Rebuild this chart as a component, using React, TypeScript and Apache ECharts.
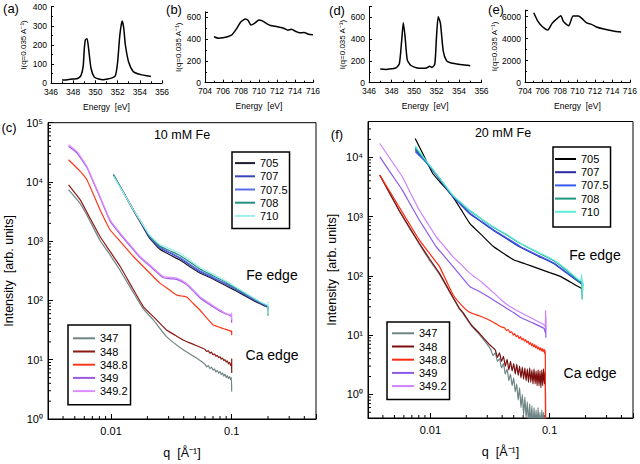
import React, { useEffect, useRef } from 'react';
import * as echarts from 'echarts';

const FONT = 'Liberation Sans, Arial, Helvetica, sans-serif';

// ---------- top panels: I(q=0.035) vs energy ----------
const energyA = [347, 347.5, 348, 348.4, 348.7, 348.9, 349.0, 349.1, 349.25, 349.4, 349.6, 349.9, 350.3, 350.7, 351.1, 351.5, 351.8, 352.0, 352.2, 352.4, 352.55, 352.7, 353.0, 353.4, 353.8, 354.2, 354.6, 355];
const intensityA = [17, 19, 22, 25, 40, 90, 180, 228, 232, 175, 80, 32, 22, 18, 22, 28, 40, 110, 250, 325, 290, 200, 110, 62, 50, 44, 40, 36];

const energyB = [705, 705.5, 706, 706.5, 707, 707.5, 708, 708.5, 708.8, 709.1, 709.5, 710, 710.3, 710.8, 711.3, 711.8, 712.3, 712.8, 713.2, 713.6, 714.1, 714.5, 715, 715.5, 716];
const intensityB = [422, 408, 412, 422, 440, 495, 560, 585, 570, 530, 545, 575, 570, 545, 525, 518, 508, 498, 482, 490, 470, 458, 460, 445, 440];

const energyD = [347, 347.5, 348, 348.4, 348.7, 348.9, 349.05, 349.2, 349.4, 349.7, 350.2, 350.7, 351.1, 351.4, 351.6, 351.85, 352.0, 352.15, 352.35, 352.6, 352.9, 353.3, 353.8, 354.3, 354.8, 355];
const intensityD = [125, 122, 128, 135, 175, 380, 551, 430, 210, 160, 138, 132, 135, 150, 140, 170, 420, 606, 545, 290, 200, 180, 172, 165, 160, 155];

const energyE = [705, 705.5, 706, 706.6, 707.1, 707.7, 708.1, 708.4, 708.7, 709.0, 709.5, 710.1, 710.5, 711.0, 711.6, 712.1, 713.0, 714.1, 715];
const intensityE = [6364, 5545, 5090, 4788, 5393, 5848, 6090, 5545, 5333, 5181, 6060, 6060, 5848, 5454, 5303, 5090, 4878, 4697, 4606];

// ---------- panel (c): 10 mM Fe, [q, I] ----------
const c705 = [[0.01045, 13000], [0.0125, 6900], [0.0153, 3300], [0.018, 1880], [0.021, 1100], [0.0254, 730], [0.031, 585], [0.0372, 480], [0.045, 372], [0.0545, 290], [0.07, 230], [0.0904, 176], [0.11, 143], [0.141, 108], [0.17, 89], [0.1995, 76], [0.2, 68]];
const c707 = [[0.01045, 13200], [0.0125, 6950], [0.0153, 3390], [0.018, 1960], [0.021, 1150], [0.0254, 775], [0.031, 625], [0.0372, 513], [0.045, 397], [0.0545, 306], [0.07, 240], [0.0904, 186], [0.11, 150], [0.141, 112], [0.17, 92], [0.1995, 77], [0.2, 70]];
const c7075 = [[0.01045, 13300], [0.0125, 7000], [0.0153, 3420], [0.018, 1990], [0.021, 1180], [0.0254, 800], [0.031, 645], [0.0372, 530], [0.045, 410], [0.0545, 316], [0.07, 247], [0.0904, 191], [0.11, 153], [0.141, 115], [0.17, 93], [0.1995, 78], [0.2, 72]];
const c708 = [[0.01045, 13400], [0.0125, 7000], [0.0153, 3400], [0.018, 2000], [0.021, 1210], [0.0254, 830], [0.031, 685], [0.0372, 575], [0.045, 445], [0.0545, 340], [0.07, 262], [0.0904, 200], [0.11, 158], [0.141, 118], [0.17, 95], [0.1995, 80], [0.2, 55], [0.2, 75]];
const c710 = [[0.01045, 12600], [0.0125, 6800], [0.0153, 3400], [0.018, 2020], [0.021, 1250], [0.0254, 880], [0.031, 740], [0.0372, 625], [0.045, 480], [0.0545, 365], [0.07, 278], [0.0904, 210], [0.11, 165], [0.141, 122], [0.17, 97], [0.1995, 84], [0.2, 95], [0.2, 60]];

const c347 = [[0.00444, 7400], [0.00555, 4300], [0.0065, 2450], [0.0081, 1030], [0.0098, 590], [0.0119, 320], [0.015, 145], [0.0185, 72], [0.0224, 47], [0.0288, 24.5], [0.0396, 14.7], [0.05, 11], [0.06, 8.4], [0.062, 7.6], [0.064, 8.0], [0.066, 7.1], [0.068, 7.5], [0.07, 6.7], [0.072, 7.0], [0.074, 6.2], [0.076, 6.6], [0.078, 5.9], [0.08, 6.3], [0.082, 5.6], [0.084, 6.0], [0.086, 5.3], [0.088, 5.7], [0.09, 5.0], [0.092, 5.4], [0.094, 4.8], [0.096, 5.2], [0.098, 4.6], [0.0995, 5.0], [0.1, 2.9]];
const c348 = [[0.00444, 8970], [0.00555, 5000], [0.0065, 2750], [0.0081, 1200], [0.0098, 673], [0.0119, 374], [0.015, 164], [0.0185, 79], [0.0224, 53.5], [0.0288, 31.8], [0.034, 26], [0.0396, 21.6], [0.05, 17.6], [0.06, 15], [0.062, 13.8], [0.064, 14.3], [0.066, 12.9], [0.068, 13.4], [0.07, 12.1], [0.072, 12.6], [0.074, 11.4], [0.076, 11.9], [0.078, 10.8], [0.08, 11.3], [0.082, 10.2], [0.084, 10.7], [0.086, 9.7], [0.088, 10.1], [0.09, 9.1], [0.092, 9.6], [0.094, 8.5], [0.096, 9.0], [0.098, 8.0], [0.0995, 8.6], [0.1, 6.0], [0.1, 10.5], [0.1, 7.5]];
const c3488 = [[0.00444, 23700], [0.00555, 15100], [0.0063, 10900], [0.0072, 5900], [0.0081, 3390], [0.0098, 1560], [0.0122, 940], [0.0153, 552], [0.0195, 336], [0.0254, 196], [0.03, 155], [0.0349, 124], [0.0385, 119], [0.0423, 114], [0.048, 89], [0.0545, 69], [0.06, 55], [0.07, 39], [0.085, 33.6], [0.099, 30], [0.1, 26], [0.1, 31]];
const c349 = [[0.00444, 40000], [0.0052, 31000], [0.0063, 17500], [0.0072, 9500], [0.0081, 5450], [0.0098, 2200], [0.0119, 1310], [0.0145, 815], [0.0174, 530], [0.021, 380], [0.027, 244], [0.031, 232], [0.035, 227], [0.042, 187], [0.048, 145], [0.0545, 111], [0.065, 86], [0.08, 66], [0.09, 59], [0.099, 54], [0.1, 42]];
const c3492 = [[0.00444, 42500], [0.0052, 32700], [0.0063, 18300], [0.0072, 9900], [0.0081, 5700], [0.0098, 2300], [0.0119, 1370], [0.0145, 850], [0.0174, 552], [0.021, 396], [0.027, 254], [0.031, 245], [0.035, 238], [0.042, 195], [0.048, 151], [0.0545, 116], [0.065, 91], [0.08, 69], [0.09, 60], [0.099, 57], [0.1, 47], [0.1, 62]];

// ---------- panel (f): 20 mM Fe, [q, I] ----------
const f705 = [[0.00746, 20600], [0.0088, 10700], [0.01047, 5320], [0.0125, 3520], [0.01545, 2150], [0.018, 1330], [0.0214, 767], [0.027, 484], [0.0338, 311], [0.041, 240], [0.0498, 186], [0.062, 160], [0.0787, 135], [0.1, 113], [0.124, 97], [0.15, 78], [0.183, 62], [0.19, 58]];
const f707 = [[0.00746, 13500], [0.0088, 9200], [0.01047, 6000], [0.0125, 3780], [0.01545, 2150], [0.018, 1580], [0.0214, 1110], [0.027, 800], [0.0338, 580], [0.045, 405], [0.0568, 303], [0.08, 215], [0.1086, 160], [0.14, 110], [0.183, 74], [0.19, 68]];
const f7075 = [[0.00746, 12500], [0.0088, 9000], [0.01047, 6050], [0.0125, 3800], [0.01545, 2180], [0.018, 1620], [0.0214, 1150], [0.027, 820], [0.0338, 600], [0.045, 420], [0.0568, 312], [0.08, 222], [0.1086, 165], [0.14, 113], [0.183, 76], [0.19, 72]];
const f708 = [[0.00746, 14500], [0.0088, 9500], [0.01047, 6200], [0.0125, 3900], [0.01545, 2250], [0.018, 1700], [0.0214, 1250], [0.027, 900], [0.0338, 660], [0.045, 470], [0.0568, 350], [0.08, 245], [0.1086, 180], [0.14, 122], [0.183, 78], [0.185, 100], [0.187, 40], [0.19, 74]];
const f710 = [[0.00746, 15500], [0.0088, 9800], [0.01047, 6300], [0.0125, 3950], [0.01545, 2280], [0.018, 1720], [0.0214, 1270], [0.027, 910], [0.0338, 670], [0.045, 480], [0.0568, 355], [0.08, 250], [0.1086, 184], [0.14, 126], [0.183, 82], [0.186, 105], [0.188, 45], [0.19, 80]];

const f347 = [[0.00377, 4900], [0.00546, 1250], [0.0068, 600], [0.00807, 345], [0.0098, 185], [0.0119, 106], [0.0145, 53], [0.0176, 27], [0.0188, 23], [0.022, 14.5], [0.026, 10], [0.032, 5.8], [0.0335, 4.5], [0.035, 5.0], [0.0365, 3.6], [0.038, 4.0], [0.0395, 2.8], [0.041, 3.3], [0.0425, 2.2], [0.044, 2.7], [0.0455, 1.7], [0.047, 2.2], [0.0485, 1.4], [0.05, 1.9], [0.0515, 1.1], [0.053, 1.5], [0.0545, 0.8], [0.056, 1.3], [0.0575, 0.6], [0.059, 1.0], [0.0605, 0.45], [0.062, 0.9], [0.0635, 0.4], [0.065, 0.75], [0.0665, 0.3], [0.068, 0.7], [0.0695, 0.3], [0.071, 0.65], [0.0725, 0.25], [0.074, 0.6], [0.0755, 0.3], [0.077, 0.55], [0.0785, 0.25], [0.08, 0.6], [0.0815, 0.3], [0.083, 0.5], [0.0845, 0.25], [0.086, 0.55], [0.0875, 0.3], [0.089, 0.5], [0.0905, 0.25], [0.092, 0.45], [0.0925, 0.2]];
const f348 = [[0.00377, 5000], [0.00546, 1285], [0.0068, 620], [0.00807, 354], [0.0098, 196], [0.0119, 111], [0.0145, 55], [0.0176, 28], [0.0188, 24], [0.022, 15], [0.026, 10.5], [0.0316, 6.8], [0.035, 5.6], [0.0365, 4.2], [0.038, 5.0], [0.0395, 3.6], [0.041, 4.4], [0.0425, 3.0], [0.044, 3.9], [0.0455, 2.6], [0.047, 3.6], [0.0485, 2.5], [0.05, 3.3], [0.0515, 2.2], [0.053, 3.2], [0.0545, 2.1], [0.056, 3.0], [0.0575, 1.9], [0.059, 2.9], [0.0605, 1.8], [0.062, 2.8], [0.0635, 1.7], [0.065, 2.7], [0.0665, 1.6], [0.068, 2.8], [0.0695, 1.6], [0.071, 2.6], [0.0725, 1.5], [0.074, 2.7], [0.0755, 1.5], [0.077, 2.5], [0.0785, 1.4], [0.08, 2.6], [0.0815, 1.4], [0.083, 2.5], [0.0845, 1.3], [0.086, 2.6], [0.0875, 1.4], [0.089, 2.7], [0.0905, 1.5], [0.092, 2.4], [0.0925, 0.2]];
const f3488 = [[0.00377, 4980], [0.00546, 1460], [0.0068, 706], [0.00807, 403], [0.0098, 241], [0.0119, 144], [0.0155, 48], [0.0188, 30], [0.0215, 24], [0.026, 21], [0.032, 17.5], [0.0385, 14], [0.042, 13.2], [0.0435, 12], [0.045, 12.4], [0.0465, 11], [0.048, 11.5], [0.0495, 10], [0.051, 10.6], [0.0525, 9.4], [0.054, 9.9], [0.0555, 8.8], [0.057, 9.4], [0.0585, 8.3], [0.06, 8.8], [0.0615, 7.9], [0.063, 8.4], [0.0645, 7.4], [0.066, 7.9], [0.0675, 7.0], [0.069, 7.5], [0.0705, 6.6], [0.072, 7.2], [0.0735, 6.3], [0.075, 6.9], [0.0765, 6.1], [0.078, 6.6], [0.0795, 5.8], [0.081, 6.3], [0.0825, 5.6], [0.084, 6.1], [0.0855, 5.4], [0.087, 5.9], [0.0885, 5.2], [0.09, 5.8], [0.091, 4.8], [0.0915, 5.5], [0.092, 4.5], [0.0925, 0.2]];
const f349 = [[0.00377, 10100], [0.0048, 4940], [0.00582, 2790], [0.0068, 1600], [0.00807, 873], [0.0095, 519], [0.01117, 311], [0.013, 217], [0.01545, 144], [0.018, 100], [0.0214, 66], [0.0255, 55], [0.0297, 46], [0.0385, 33], [0.0498, 24], [0.0568, 20], [0.07, 16.5], [0.0895, 13], [0.092, 11], [0.0925, 20], [0.093, 9]];
const f3492 = [[0.00377, 17000], [0.0048, 8300], [0.00582, 4670], [0.0068, 2520], [0.00807, 1285], [0.0095, 764], [0.01117, 458], [0.013, 319], [0.01545, 211], [0.018, 157], [0.0214, 111], [0.027, 78], [0.0338, 52], [0.04, 38], [0.0467, 30], [0.055, 25], [0.065, 21], [0.0775, 17.5], [0.0895, 15], [0.092, 14], [0.0925, 26], [0.093, 12]];

const feNames = ['705', '707', '707.5', '708', '710'];
const caNames = ['347', '348', '348.8', '349', '349.2'];
const feColorsC = ['#1e1a30', '#3a46b8', '#5c6ce6', '#23907f', '#9ef0ea'];
const caColorsC = ['#6f8585', '#8a1a12', '#ff3a1c', '#9a5ae6', '#de8cff'];
const feColorsF = ['#000000', '#2a2aa6', '#3a5cf0', '#1c9a80', '#5eecd8'];
const caColorsF = ['#6f8585', '#7a0e0e', '#ff2a10', '#8a5ae8', '#d080ff'];

const SUP = ['⁰', '¹', '²', '³', '⁴', '⁵'];

const minorQ: number[] = [];
[0.001, 0.01, 0.1].forEach((d) => { for (let k = 2; k <= 9; k++) { const v = +(k * d).toPrecision(3); if (v > 0.003 && v < 0.5) minorQ.push(v); } });
const minorIc: number[] = [];
[1, 10, 100, 1000, 10000].forEach((d) => { for (let k = 2; k <= 9; k++) minorIc.push(k * d); });
const minorIf: number[] = [];
[0.1, 1, 10, 100, 1000, 10000].forEach((d) => { for (let k = 2; k <= 9; k++) { const v = +(k * d).toPrecision(3); if (v > 0.4 && v < 40000) minorIf.push(v); } });

const zip = (xs: number[], ys: number[]) => xs.map((x, i) => [x, ys[i]]);

export default function App() {
  const ref = useRef<HTMLDivElement>(null);
  useEffect(() => {
    if (!ref.current) return;
    const chart = echarts.init(ref.current, null, { renderer: 'svg' });
    const black = '#000';
    const axLine = { show: true, onZero: false, lineStyle: { color: black, width: 1 } };

    const topX = (gi: number, min: number, max: number) => ({
      type: 'value', gridIndex: gi, min, max, interval: 2,
      name: 'Energy  [eV]', nameLocation: 'middle', nameGap: 19,
      nameTextStyle: { fontSize: 8.5, color: black, fontFamily: FONT },
      axisLine: axLine,
      axisTick: { inside: true, length: 3, lineStyle: { color: black } },
      minorTick: { show: true, splitNumber: 2, length: 2, lineStyle: { color: black } },
      axisLabel: { fontSize: 8.5, color: black, margin: 4, fontFamily: FONT },
      splitLine: { show: false }, minorSplitLine: { show: false },
    });
    const topY = (gi: number, max: number, interval: number, gap: number) => ({
      type: 'value', gridIndex: gi, min: 0, max, interval,
      name: 'I(q=0.035 A⁻¹)', nameLocation: 'middle', nameGap: gap,
      nameTextStyle: { fontSize: 8, color: black, fontFamily: FONT },
      axisLine: axLine,
      axisTick: { inside: true, length: 3, lineStyle: { color: black } },
      minorTick: { show: true, splitNumber: 2, length: 2, lineStyle: { color: black } },
      axisLabel: { fontSize: 8.5, color: black, margin: 4, fontFamily: FONT, formatter: (v: number) => (v % interval === 0 ? String(v) : '') },
      splitLine: { show: false },
    });
    const logX = (gi: number) => ({
      type: 'log', logBase: 10, gridIndex: gi, min: 0.003, max: 0.5,
      name: 'q  [Å⁻¹]', nameLocation: 'middle', nameGap: 27,
      nameTextStyle: { fontSize: 12.5, color: black, fontFamily: FONT },
      axisLine: axLine,
      axisTick: { inside: true, length: 5, lineStyle: { color: black } },
      axisLabel: {
        fontSize: 11, color: black, margin: 6, fontFamily: FONT,
        formatter: (v: number) => { const l = Math.log10(v); const e = Math.round(l); if (Math.abs(l - e) > 1e-6) return ''; return e === -2 ? '0.01' : e === -1 ? '0.1' : ''; },
      },
      splitLine: { show: false },
    });
    const logY = (gi: number, min: number, max: number, gap: number) => ({
      type: 'log', logBase: 10, gridIndex: gi, min, max,
      name: 'Intensity  [arb. units]', nameLocation: 'middle', nameGap: gap,
      nameTextStyle: { fontSize: 12.5, color: black, fontFamily: FONT },
      axisLine: axLine,
      axisTick: { inside: true, length: 5, lineStyle: { color: black } },
      axisLabel: {
        fontSize: 11, color: black, margin: 5, fontFamily: FONT,
        formatter: (v: number) => { const l = Math.log10(v); const e = Math.round(l); if (Math.abs(l - e) > 1e-6 || e < 0) return ''; return '10' + SUP[e]; },
      },
      splitLine: { show: false },
    });

    const topLine = (gi: number, data: number[][]) => ({
      type: 'line', xAxisIndex: gi, yAxisIndex: gi, data, symbol: 'none', showSymbol: false,
      lineStyle: { color: black, width: 1.5 }, itemStyle: { color: black }, smooth: 0.2, silent: true,
    });
    const mainLine = (gi: number, name: string, data: number[][], color: string) => ({
      type: 'line', name, xAxisIndex: gi, yAxisIndex: gi, data, symbol: 'none', showSymbol: false,
      lineStyle: { color, width: 1.2 }, itemStyle: { color }, smooth: 0.15, silent: true, clip: true,
    });
    const tickSeries = (gi: number, xs: number[], ys: number[], xMin: number, yMin: number) => ({
      type: 'custom', xAxisIndex: gi, yAxisIndex: gi, silent: true, clip: false,
      data: [...xs.map((v) => [v, yMin, 0]), ...ys.map((v) => [xMin, v, 1])],
      encode: { x: 0, y: 1 },
      renderItem: (_p: any, api: any) => {
        const p = api.coord([api.value(0), api.value(1)]);
        const f = api.value(2);
        const shape = f === 0 ? { x1: p[0], y1: p[1], x2: p[0], y2: p[1] - 3 } : { x1: p[0], y1: p[1], x2: p[0] + 3, y2: p[1] };
        return { type: 'line', shape, style: { stroke: black, lineWidth: 1 } };
      },
    });

    const feC = [c705, c707, c7075, c708, c710];
    const caC = [c347, c348, c3488, c349, c3492];
    const feF = [f705, f707, f7075, f708, f710];
    const caF = [f347, f348, f3488, f349, f3492];

    const legendBase = {
      orient: 'vertical', icon: 'rect', itemHeight: 2, itemGap: 0,
      borderColor: black, borderWidth: 1.5, borderRadius: 0, selectedMode: false,
      textStyle: { fontSize: 11, color: black, lineHeight: 13.2, fontFamily: FONT },
      formatter: (n: string) => n.slice(1),
    };

    const txt = (text: string, x: number, y: number, size: number, align = 'center') => ({
      type: 'text', x, y, silent: true,
      style: { text, fill: black, font: `${size}px ${FONT}`, align, verticalAlign: 'middle', textAlign: align, textVerticalAlign: 'middle' },
    });

    const option: any = {
      animation: false,
      backgroundColor: '#fff',
      textStyle: { fontFamily: FONT },
      grid: [
        { left: 51, top: 6.7, width: 111, height: 76.6 },
        { left: 205, top: 11.85, width: 108, height: 70.85 },
        { left: 369, top: 6.4, width: 112.5, height: 76.3 },
        { left: 525, top: 10.1, width: 108, height: 72.6 },
        { left: 48, top: 122.7, width: 268, height: 296.6, show: true, borderColor: black, borderWidth: 1 },
        { left: 368, top: 121.5, width: 265, height: 296.5, show: true, borderColor: black, borderWidth: 1 },
      ],
      xAxis: [topX(0, 346, 356), topX(1, 704, 716), topX(2, 346, 356), topX(3, 704, 716), logX(4), logX(5)],
      yAxis: [topY(0, 400, 100, 24), topY(1, 650, 200, 18), topY(2, 700, 200, 21), topY(3, 6600, 2000, 20), logY(4, 1, 100000, 33), logY(5, 0.4, 40000, 30)],
      legend: [
        { ...legendBase, left: 232, top: 152, itemWidth: 20, padding: [4.5, 2, 6, 3], data: feNames.map((n) => 'c' + n) },
        { ...legendBase, left: 68, top: 325, itemWidth: 22, padding: [6.7, 3, 7, 5], data: caNames.map((n) => 'c' + n) },
        { ...legendBase, left: 553, top: 147, itemWidth: 21, padding: [5.4, 2, 8.7, 2], data: feNames.map((n) => 'f' + n) },
        { ...legendBase, left: 387, top: 322, itemWidth: 22, padding: [4.7, 3, 6.7, 5], data: caNames.map((n) => 'f' + n) },
      ],
      series: [
        topLine(0, zip(energyA, intensityA)),
        topLine(1, zip(energyB, intensityB)),
        topLine(2, zip(energyD, intensityD)),
        topLine(3, zip(energyE, intensityE)),
        ...caNames.map((n, i) => mainLine(4, 'c' + n, caC[i], caColorsC[i])),
        ...feNames.map((n, i) => mainLine(4, 'c' + n, feC[i], feColorsC[i])),
        ...caNames.map((n, i) => mainLine(5, 'f' + n, caF[i], caColorsF[i])),
        ...feNames.map((n, i) => mainLine(5, 'f' + n, feF[i], feColorsF[i])),
        tickSeries(4, minorQ, minorIc, 0.003, 1),
        tickSeries(5, minorQ, minorIf, 0.003, 0.4),
      ],
      graphic: [
        txt('(a)', 11, 8, 13),
        txt('(b)', 174, 9, 13),
        txt('(d)', 337, 10, 13),
        txt('(e)', 496, 9, 13),
        txt('(c)', 9, 127.5, 13),
        txt('(f)', 337, 134, 13),
        txt('10 mM Fe', 182, 135, 12.5),
        txt('20 mM Fe', 503, 133, 12.5),
        txt('Fe edge', 272, 275, 14),
        txt('Ca edge', 272, 355, 14),
        txt('Fe edge', 595, 255, 14),
        txt('Ca edge', 590, 373, 14),
      ],
    };
    chart.setOption(option);
    return () => chart.dispose();
  }, []);
  return <div ref={ref} style={{ position: 'absolute', left: 0, top: 0, width: 640, height: 464, background: '#fff' }} />;
}
